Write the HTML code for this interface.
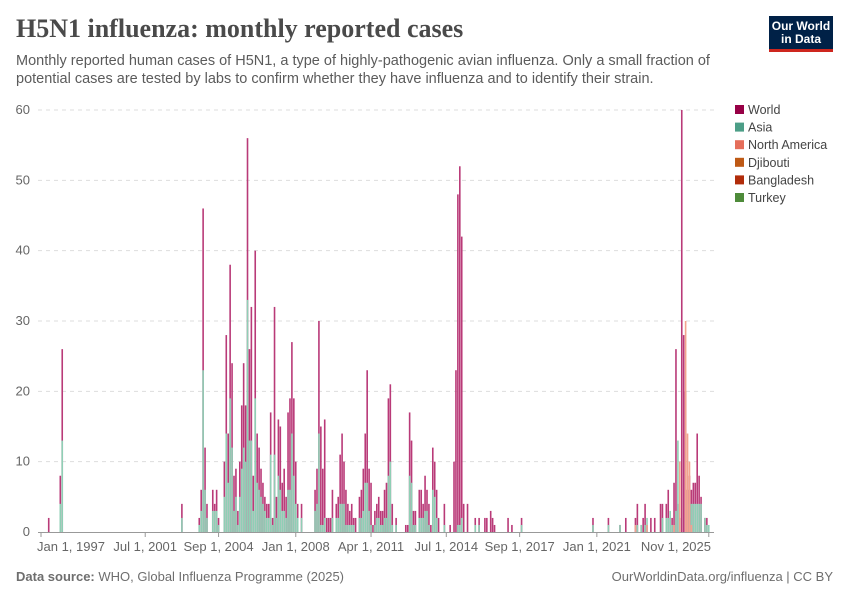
<!DOCTYPE html>
<html><head><meta charset="utf-8">
<style>
body{margin:0;background:#fff;}
#wrap{position:relative;width:850px;height:600px;overflow:hidden;font-family:"Liberation Sans",sans-serif;}
.t{position:absolute;white-space:nowrap;}
</style></head>
<body>
<div id="wrap">
<div class="t" style="left:16px;top:14px;font-family:'Liberation Serif',serif;font-size:26px;font-weight:bold;color:#4a4a4a;">H5N1 influenza: monthly reported cases</div>
<div class="t" style="left:16px;top:52px;font-size:14.5px;line-height:18px;color:#5b5b5b;">Monthly reported human cases of H5N1, a type of highly-pathogenic avian influenza. Only a small fraction of<br>potential cases are tested by labs to confirm whether they have influenza and to identify their strain.</div>
<div style="position:absolute;left:769px;top:16px;width:64px;height:36px;background:#002147;border-bottom:3px solid #ce261e;box-sizing:border-box;color:#fff;font-size:12px;font-weight:bold;line-height:13px;text-align:center;padding-top:4px;">Our World<br>in Data</div>
<svg id="chart" width="850" height="600" style="position:absolute;left:0;top:0;"></svg>
<div class="t" style="left:16px;top:569px;font-size:13px;color:#6e6e6e;"><b>Data source:</b> WHO, Global Influenza Programme (2025)</div>
<div class="t" style="right:17px;top:569px;font-size:13px;color:#6e6e6e;">OurWorldinData.org/influenza | CC BY</div>
</div>
<script>
const months=["1997-05","1997-11","1997-12","2003-02","2003-11","2003-12","2004-01","2004-02","2004-03","2004-06","2004-07","2004-08","2004-09","2004-12","2005-01","2005-02","2005-03","2005-04","2005-05","2005-06","2005-07","2005-08","2005-09","2005-10","2005-11","2005-12","2006-01","2006-02","2006-03","2006-04","2006-05","2006-06","2006-07","2006-08","2006-09","2006-10","2006-11","2006-12","2007-01","2007-02","2007-03","2007-04","2007-05","2007-06","2007-07","2007-08","2007-09","2007-10","2007-11","2007-12","2008-01","2008-02","2008-04","2008-11","2008-12","2009-01","2009-02","2009-03","2009-04","2009-05","2009-06","2009-07","2009-08","2009-10","2009-11","2009-12","2010-01","2010-02","2010-03","2010-04","2010-05","2010-06","2010-07","2010-08","2010-10","2010-11","2010-12","2011-01","2011-02","2011-03","2011-04","2011-05","2011-06","2011-07","2011-08","2011-09","2011-10","2011-11","2011-12","2012-01","2012-02","2012-03","2012-05","2012-10","2012-11","2012-12","2013-01","2013-02","2013-03","2013-05","2013-06","2013-07","2013-08","2013-09","2013-10","2013-11","2013-12","2014-01","2014-02","2014-03","2014-06","2014-09","2014-11","2014-12","2015-01","2015-02","2015-03","2015-04","2015-06","2015-10","2015-12","2016-03","2016-04","2016-06","2016-07","2016-08","2017-03","2017-05","2017-10","2020-11","2021-07","2022-01","2022-04","2022-09","2022-10","2022-12","2023-01","2023-02","2023-03","2023-05","2023-07","2023-10","2023-11","2024-01","2024-02","2024-03","2024-04","2024-05","2024-06","2024-07","2024-08","2024-09","2024-10","2024-11","2024-12","2025-01","2025-02","2025-03","2025-04","2025-05","2025-06","2025-07","2025-09","2025-10","2025-11"];
const worldCases=[2,8,26,4,2,6,46,12,4,6,4,6,2,10,28,14,38,24,8,9,3,10,18,24,18,56,26,32,8,40,14,12,9,7,5,4,4,17,2,32,5,16,15,7,9,5,17,19,27,19,10,4,4,6,9,30,15,9,16,2,2,2,6,4,5,11,14,10,6,4,3,4,2,2,5,6,9,14,23,9,7,1,3,4,5,3,3,6,7,19,21,4,2,1,1,17,13,3,3,6,6,4,8,6,4,1,12,10,6,2,4,1,10,23,48,52,42,4,4,2,2,2,2,3,2,1,2,1,2,2,2,1,2,2,4,1,2,4,1,2,2,4,4,4,6,2,2,7,26,4,2,60,28,20,6,8,6,7,7,14,8,5,2,2];
const asiaCases=[0,4,13,2,1,3,23,6,2,3,3,3,1,5,14,7,19,12,3,5,1,5,9,12,10,33,13,13,3,19,7,6,5,4,3,2,2,11,1,11,2,8,6,3,3,2,6,6,14,8,4,2,2,3,4,14,1,1,2,0,0,0,2,2,2,4,4,4,1,1,1,1,1,0,2,2,3,7,7,3,1,0,1,2,2,1,1,2,2,8,10,1,1,0,0,8,7,1,1,2,2,2,3,3,1,0,6,5,2,0,1,0,0,0,1,1,2,0,0,1,1,0,0,0,0,0,0,0,1,1,1,1,0,0,1,1,0,1,2,0,0,0,2,2,2,3,1,0,3,13,2,0,0,0,0,4,4,4,4,4,4,4,2,1,1];
const northAmericaCases=[0,0,0,0,0,0,0,0,0,0,0,0,0,0,0,0,0,0,0,0,0,0,0,0,0,0,0,0,0,0,0,0,0,0,0,0,0,0,0,0,0,0,0,0,0,0,0,0,0,0,0,0,0,0,0,0,0,0,0,0,0,0,0,0,0,0,0,0,0,0,0,0,0,0,0,0,0,0,0,0,0,0,0,0,0,0,0,0,0,0,0,0,0,0,0,0,0,0,0,0,0,0,0,0,0,0,0,0,0,0,0,0,0,0,0,0,0,0,0,0,0,0,0,0,0,0,0,0,0,0,0,0,0,1,0,0,0,0,1,0,0,0,0,0,0,0,0,1,0,0,10,0,0,30,14,10,1,0,0,0,0,0,0,0,0,0];
const yTicks=[0,10,20,30,40,50,60];
const xTickDates=["1997-01","2001-07","2004-09","2008-01","2011-04","2014-07","2017-09","2021-01","2025-11"];
const xTickLabels=["Jan 1, 1997","Jul 1, 2001","Sep 1, 2004","Jan 1, 2008","Apr 1, 2011","Jul 1, 2014","Sep 1, 2017","Jan 1, 2021","Nov 1, 2025"];
const legendNames=["World","Asia","North America","Djibouti","Bangladesh","Turkey"];
const legendColors=["#970046","#4c9e87","#e56e5a","#be5915","#b12c0a","#4e8b3a"];

const NS="http://www.w3.org/2000/svg";
const svg=document.getElementById('chart');
const X0=41,PXM=1.93,Y0=532,YTOP=110,YMAX=60,XL=38,XR=714;
function mIdx(s){const p=s.split('-');return (+p[0]-1997)*12+(+p[1]-1);}
function xs(s){return X0+mIdx(s)*PXM;}
function ys(v){return Y0-(v/YMAX)*(Y0-YTOP);}
function mk(tag,attrs){const e=document.createElementNS(NS,tag);for(const k in attrs)e.setAttribute(k,attrs[k]);svg.appendChild(e);return e;}

yTicks.forEach(v=>{
  if(v>0){const g=mk('line',{x1:XL,x2:XR,y1:ys(v),y2:ys(v),stroke:'#dddddd','stroke-dasharray':'4,4'});
  
  }
  const t=mk('text',{x:30,y:ys(v)+4,'text-anchor':'end','font-size':'13','fill':'#666','font-family':'Liberation Sans, sans-serif'});
  t.textContent=v;
  
  
});
function bars(vals,color,name){
  months.forEach((m,i)=>{const v=vals[i];if(!v)return;
    const r=mk('rect',{x:xs(m)-0.8,y:ys(v),width:1.6,height:Y0-ys(v),fill:color});
    
    
  });
}
bars(worldCases,'#b93a78','world');
bars(asiaCases,'#8fcfb5','asia');
bars(northAmericaCases,'#f2a38e','north-america');
const ax=mk('line',{x1:XL,x2:XR,y1:Y0+0.5,y2:Y0+0.5,stroke:'#999'});


xTickDates.forEach((d,i)=>{
  const x=xs(d);
  const tk=mk('line',{x1:x,x2:x,y1:Y0,y2:Y0+5,stroke:'#999'});
  
  
  let anchor='middle',tx=x;
  if(i===0){anchor='start';tx=37;}
  if(i===xTickDates.length-1){anchor='end';tx=711;}
  const t=mk('text',{x:tx,y:551,'text-anchor':anchor,'font-size':'13','fill':'#666','font-family':'Liberation Sans, sans-serif'});
  t.textContent=xTickLabels[i];
  
  
});
legendNames.forEach((n,i)=>{
  const y=110+i*17.6;
  const r=mk('rect',{x:735,y:y-5,width:9,height:9,fill:legendColors[i]});
  
  
  const t=mk('text',{x:748,y:y+4,'font-size':'12.5','fill':'#444','font-family':'Liberation Sans, sans-serif'});
  t.textContent=n;
  
  
});
</script>
</body></html>
